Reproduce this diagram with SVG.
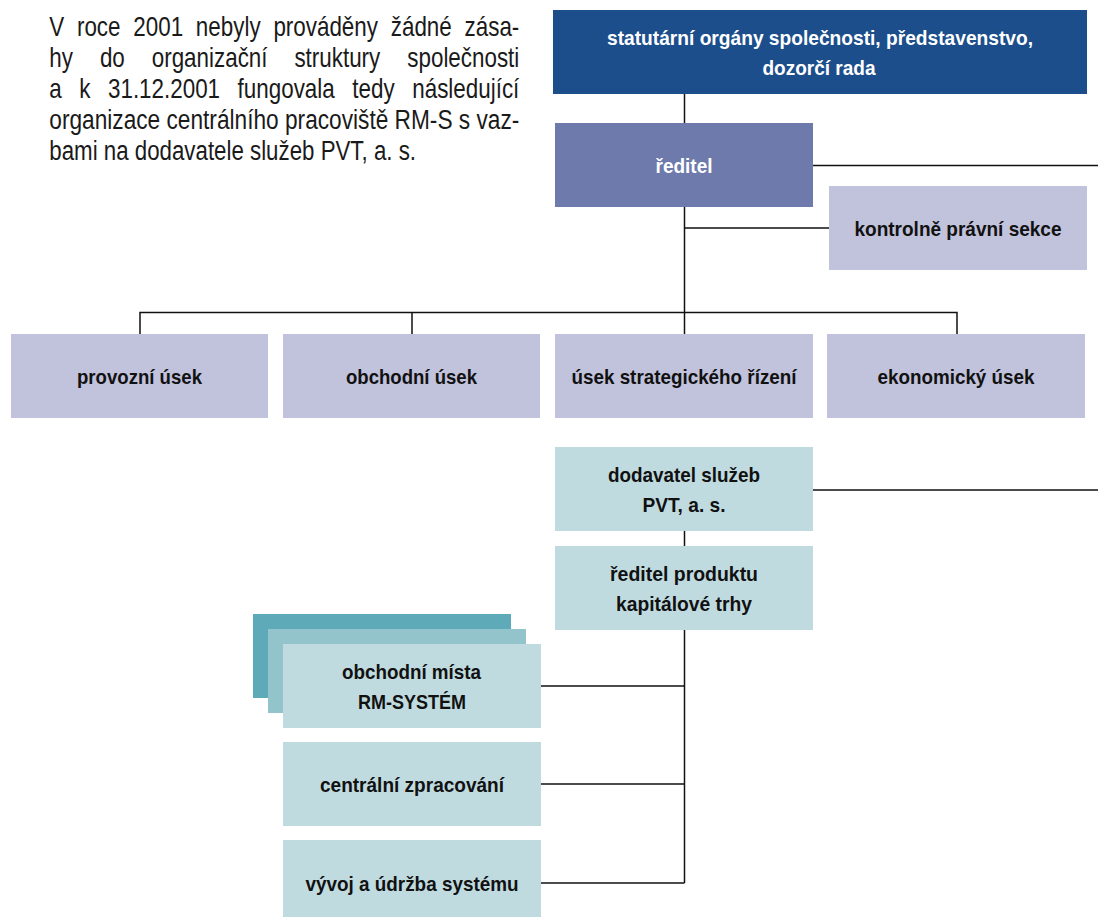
<svg xmlns="http://www.w3.org/2000/svg" width="1098" height="917" viewBox="0 0 1098 917">
<style>
.para{font-family:"Liberation Sans",Arial,sans-serif;font-size:27px;fill:#1a1a1a}
.lbl{font-family:"Liberation Sans",Arial,sans-serif;font-size:21px;font-weight:bold;fill:#111;text-anchor:middle}
.wh{fill:#ffffff}
.navy{fill:#1c4e8c}
.purple{fill:#6d7aab}
.lav{fill:#c1c2dc}
.teal{fill:#c0dbe0}
.teal2{fill:#93c3cb}
.teal3{fill:#5eaab8}
.conn path{fill:none;stroke:#111;stroke-width:1.5}
</style>
<rect width="1098" height="917" fill="#ffffff"/>
<g id="intro-text" class="para">
<g transform="scale(0.83,1)">
<text y="36"><tspan x="59.4">V</tspan> <tspan x="92.7">roce</tspan> <tspan x="160.6">2001</tspan> <tspan x="236">nebyly</tspan> <tspan x="329.4">prováděny</tspan> <tspan x="470.8">žádné</tspan> <tspan x="625.7" text-anchor="end">zása-</tspan></text>
<text y="67"><tspan x="59.4">hy</tspan> <tspan x="120.4">do</tspan> <tspan x="182.8">organizační</tspan> <tspan x="354.7">struktury</tspan> <tspan x="625.7" text-anchor="end">společnosti</tspan></text>
<text y="98"><tspan x="59.4">a</tspan> <tspan x="95.5">k</tspan> <tspan x="130.1">31.12.2001</tspan> <tspan x="286.3">fungovala</tspan> <tspan x="424.5">tedy</tspan> <tspan x="625.7" text-anchor="end">následující</tspan></text>
</g>
<text x="49.3" y="129" textLength="470" lengthAdjust="spacingAndGlyphs">organizace centrálního pracoviště RM-S s vaz-</text>
<text x="49.3" y="160" textLength="366.7" lengthAdjust="spacingAndGlyphs">bami na dodavatele služeb PVT, a. s.</text>
</g>
<g class="conn" id="connectors">
<path d="M684.5 94V123"/>
<path d="M813 165.5H1098"/>
<path d="M684.5 207V334"/>
<path d="M684.5 228H829"/>
<path d="M140 334V312.5H957V334"/>
<path d="M412 312.5V334"/>
<path d="M813 490H1098"/>
<path d="M684.5 531V546"/>
<path d="M684.5 630V883"/>
<path d="M541 686H684.5"/>
<path d="M541 784H684.5"/>
<path d="M541 883H684.5"/>
</g>
<g id="statutarni">
<rect class="navy" x="553" y="10" width="534" height="84"/>
<text class="lbl wh" x="820" y="44.5" textLength="426" lengthAdjust="spacingAndGlyphs">statutární orgány společnosti, představenstvo,</text>
<text class="lbl wh" x="819" y="74.5" textLength="113" lengthAdjust="spacingAndGlyphs">dozorčí rada</text>
</g>
<g id="reditel">
<rect class="purple" x="555" y="123" width="258" height="84"/>
<text class="lbl wh" x="684" y="172.5" textLength="57" lengthAdjust="spacingAndGlyphs">ředitel</text>
</g>
<g id="kontrolne-pravni-sekce">
<rect class="lav" x="829" y="186" width="258" height="84"/>
<text class="lbl" x="958" y="235.5" textLength="207" lengthAdjust="spacingAndGlyphs">kontrolně právní sekce</text>
</g>
<g id="provozni-usek">
<rect class="lav" x="11" y="334" width="257" height="84"/>
<text class="lbl" x="139.5" y="383.5" textLength="125" lengthAdjust="spacingAndGlyphs">provozní úsek</text>
</g>
<g id="obchodni-usek">
<rect class="lav" x="283" y="334" width="257" height="84"/>
<text class="lbl" x="411.5" y="383.5" textLength="131" lengthAdjust="spacingAndGlyphs">obchodní úsek</text>
</g>
<g id="usek-strategickeho-rizeni">
<rect class="lav" x="555" y="334" width="258" height="84"/>
<text class="lbl" x="684" y="383.5" textLength="225" lengthAdjust="spacingAndGlyphs">úsek strategického řízení</text>
</g>
<g id="ekonomicky-usek">
<rect class="lav" x="827" y="334" width="258" height="84"/>
<text class="lbl" x="956" y="383.5" textLength="157" lengthAdjust="spacingAndGlyphs">ekonomický úsek</text>
</g>
<g id="dodavatel">
<rect class="teal" x="555" y="447" width="258" height="84"/>
<text class="lbl" x="684" y="481.5" textLength="152" lengthAdjust="spacingAndGlyphs">dodavatel služeb</text>
<text class="lbl" x="684" y="511.5" textLength="83" lengthAdjust="spacingAndGlyphs">PVT, a. s.</text>
</g>
<g id="reditel-produktu">
<rect class="teal" x="555" y="546" width="258" height="84"/>
<text class="lbl" x="684" y="580.5" textLength="148" lengthAdjust="spacingAndGlyphs">ředitel produktu</text>
<text class="lbl" x="684" y="610.5" textLength="136" lengthAdjust="spacingAndGlyphs">kapitálové trhy</text>
</g>
<g id="obchodni-mista">
<rect class="teal3" x="253" y="614" width="258" height="84"/>
<rect class="teal2" x="268" y="629" width="258" height="84"/>
<rect class="teal" x="283" y="644" width="258" height="84"/>
<text class="lbl" x="411.5" y="678.5" textLength="139" lengthAdjust="spacingAndGlyphs">obchodní místa</text>
<text class="lbl" x="412" y="708.5" textLength="108" lengthAdjust="spacingAndGlyphs">RM-SYSTÉM</text>
</g>
<g id="centralni-zpracovani">
<rect class="teal" x="283" y="742" width="258" height="84"/>
<text class="lbl" x="412" y="791.5" textLength="184" lengthAdjust="spacingAndGlyphs">centrální zpracování</text>
</g>
<g id="vyvoj-a-udrzba">
<rect class="teal" x="283" y="840" width="258" height="84"/>
<text class="lbl" x="412" y="890.5" textLength="213" lengthAdjust="spacingAndGlyphs">vývoj a údržba systému</text>
</g>
</svg>
